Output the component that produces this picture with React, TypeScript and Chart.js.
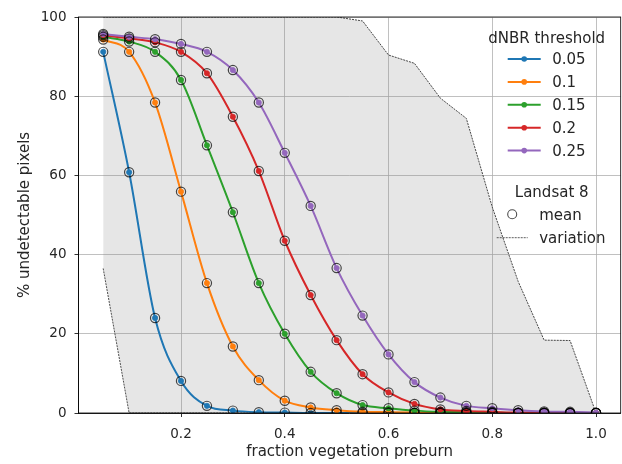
import React, { useEffect, useRef } from 'react';
import { Chart, registerables } from 'chart.js';

Chart.register(...registerables);

// ---------- data ----------
const fractions = [0.05, 0.1, 0.15, 0.2, 0.25, 0.3, 0.35, 0.4, 0.45, 0.5, 0.55, 0.6, 0.65, 0.7, 0.75, 0.8, 0.85, 0.9, 0.95, 1.0];
const thresholds = ['0.05', '0.1', '0.15', '0.2', '0.25'];
const pct005 = [91.2, 60.8, 24.0, 8.1, 1.8, 0.6, 0.2, 0.1, 0, 0, 0, 0, 0, 0, 0, 0, 0, 0, 0, 0];
const pct010 = [94.3, 91.2, 78.4, 55.9, 32.8, 16.8, 8.3, 3.1, 1.4, 0.7, 0.3, 0.2, 0.1, 0, 0, 0, 0, 0, 0, 0];
const pct015 = [95.0, 93.8, 91.2, 84.1, 67.6, 50.7, 32.8, 20.0, 10.4, 5.0, 2.0, 1.2, 0.6, 0.3, 0.2, 0.1, 0, 0, 0, 0];
const pct020 = [95.4, 94.6, 93.6, 91.2, 85.8, 74.8, 61.1, 43.5, 29.8, 18.4, 9.8, 5.2, 2.3, 0.9, 0.5, 0.3, 0.1, 0.1, 0, 0];
const pct025 = [95.7, 95.0, 94.4, 93.2, 91.2, 86.6, 78.4, 65.7, 52.3, 36.6, 24.6, 14.8, 7.8, 3.9, 1.8, 1.2, 0.7, 0.4, 0.3, 0.1];
const variationUpper = [100, 100, 100, 100, 100, 100, 100, 100, 100, 100, 99.0, 90.4, 88.3, 79.5, 74.4, 52.0, 33.2, 18.4, 18.3, 0];
const variationLower = [36.5, 0, 0, 0, 0, 0, 0, 0, 0, 0, 0, 0, 0, 0, 0, 0, 0, 0, 0, 0];
const xTicks = [0.2, 0.4, 0.6, 0.8, 1.0];

const seriesValues = [pct005, pct010, pct015, pct020, pct025];
const colors = ['#1f77b4', '#ff7f0e', '#2ca02c', '#d62728', '#9467bd'];

const FONT = '"DejaVu Sans", sans-serif';
const TEXT = '#262626';
const RING = 'rgba(0,0,0,0.7)';
const DASH = '#333';

const toXY = (vals: number[]) => vals.map((v, i) => ({ x: fractions[i], y: v }));

const frameAndLegend = {
  id: 'frameAndLegend',
  afterDatasetsDraw(chart: any) {
    const { ctx, chartArea } = chart;
    ctx.save();
    ctx.strokeStyle = '#000';
    ctx.lineWidth = 0.8;
    ctx.strokeRect(chartArea.left, chartArea.top, chartArea.right - chartArea.left, chartArea.bottom - chartArea.top);
    ctx.restore();
  },
  afterDraw(chart: any) {
    const { ctx, chartArea } = chart;
    const r = chartArea.right;
    const t = chartArea.top;
    ctx.save();
    ctx.font = '15px ' + FONT;
    ctx.fillStyle = TEXT;
    ctx.textBaseline = 'alphabetic';
    // first legend
    ctx.textAlign = 'center';
    ctx.fillText('dNBR threshold', r - 74, t + 25.5);
    ctx.textAlign = 'left';
    thresholds.forEach((lab, i) => {
      const y = t + 42 + i * 22.9;
      ctx.strokeStyle = colors[i];
      ctx.lineWidth = 2;
      ctx.beginPath();
      ctx.moveTo(r - 113, y);
      ctx.lineTo(r - 80, y);
      ctx.stroke();
      ctx.fillStyle = colors[i];
      ctx.beginPath();
      ctx.arc(r - 96.5, y, 2.8, 0, Math.PI * 2);
      ctx.fill();
      ctx.fillStyle = TEXT;
      ctx.fillText(lab, r - 68.5, y + 5);
    });
    // second legend
    ctx.textAlign = 'center';
    ctx.fillText('Landsat 8', r - 69, t + 179.5);
    ctx.textAlign = 'left';
    ctx.strokeStyle = RING;
    ctx.lineWidth = 1.1;
    ctx.beginPath();
    ctx.arc(r - 108.5, t + 197.3, 4.5, 0, Math.PI * 2);
    ctx.stroke();
    ctx.fillText('mean', r - 81.5, t + 203);
    ctx.strokeStyle = DASH;
    ctx.lineWidth = 0.8;
    ctx.setLineDash([2, 1]);
    ctx.beginPath();
    ctx.moveTo(r - 124, t + 220.7);
    ctx.lineTo(r - 93, t + 220.7);
    ctx.stroke();
    ctx.setLineDash([]);
    ctx.fillText('variation', r - 81.5, t + 225.5);
    ctx.restore();
  },
};

export default function App() {
  const ref = useRef<HTMLCanvasElement>(null);

  useEffect(() => {
    document.body.style.margin = '0';
    const canvas = ref.current;
    if (!canvas) return;

    const lineSets = seriesValues.map((vals, i) => ({
      label: thresholds[i],
      data: toXY(vals),
      borderColor: colors[i],
      backgroundColor: colors[i],
      borderWidth: 2,
      pointRadius: 2.6,
      pointBorderWidth: 0.8,
      pointBorderColor: colors[i],
      pointBackgroundColor: colors[i],
      cubicInterpolationMode: 'monotone',
      fill: false,
      order: 5 - i,
    }));

    const meanSets = seriesValues.map((vals, i) => ({
      label: 'mean ' + thresholds[i],
      data: toXY(vals),
      showLine: false,
      pointRadius: 4.6,
      pointBorderWidth: 1.2,
      pointBorderColor: RING,
      pointBackgroundColor: 'rgba(0,0,0,0)',
      borderColor: RING,
      backgroundColor: 'rgba(0,0,0,0)',
      order: 0,
    }));

    const chart = new Chart(canvas, {
      type: 'line',
      data: {
        datasets: [
          {
            label: 'variation upper',
            data: toXY(variationUpper),
            borderColor: DASH,
            borderWidth: 0.9,
            borderDash: [2, 1],
            pointRadius: 0,
            backgroundColor: 'rgba(128,128,128,0.2)',
            fill: '+1',
            order: 10,
          },
          {
            label: 'variation lower',
            data: toXY(variationLower),
            borderColor: DASH,
            borderWidth: 0.9,
            borderDash: [2, 1],
            pointRadius: 0,
            fill: false,
            order: 11,
          },
          ...lineSets,
          ...meanSets,
        ] as any,
      },
      options: {
        animation: false,
        responsive: false,
        maintainAspectRatio: false,
        layout: { autoPadding: false, padding: { top: 17, right: 1.3, left: 0, bottom: 0 } },
        plugins: {
          legend: { display: false },
          tooltip: { enabled: false },
        },
        scales: {
          x: {
            type: 'linear',
            min: 0.0024,
            max: 1.0476,
            afterFit: (s: any) => { s.height = 51; s.paddingLeft = 0; s.paddingRight = 0; },
            afterBuildTicks: (s: any) => { s.ticks = xTicks.map((v) => ({ value: v })); },
            ticks: {
              color: TEXT,
              font: { family: FONT, size: 13.5 },
              padding: 9,
              maxRotation: 0,
              autoSkip: false,
              callback: (v: any) => Number(v).toFixed(1),
            },
            grid: { color: '#b0b0b0', lineWidth: 0.8, tickColor: '#000', tickLength: 4, tickWidth: 0.8 },
            border: { display: true, color: '#000', width: 0.8 },
            title: {
              display: true,
              text: 'fraction vegetation preburn',
              color: TEXT,
              font: { family: FONT, size: 15 },
              padding: { top: 0, bottom: 2.5 },
            },
          },
          y: {
            min: 0,
            max: 100,
            afterFit: (s: any) => { s.width = 78.5; s.paddingTop = 0; s.paddingBottom = 0; },
            ticks: {
              stepSize: 20,
              color: TEXT,
              font: { family: FONT, size: 13.5 },
              padding: 8,
            },
            grid: { color: '#b0b0b0', lineWidth: 0.8, tickColor: '#000', tickLength: 4, tickWidth: 0.8 },
            border: { display: true, color: '#000', width: 0.8 },
            title: {
              display: true,
              text: '% undetectable pixels',
              color: TEXT,
              font: { family: FONT, size: 15 },
              padding: { top: 16, bottom: 0 },
            },
          },
        },
      },
      plugins: [frameAndLegend],
    });

    return () => chart.destroy();
  }, []);

  return (
    <div style={{ position: 'absolute', left: 0, top: 0, width: 622, height: 464, background: '#fff' }}>
      <canvas ref={ref} width={622} height={464} />
    </div>
  );
}
